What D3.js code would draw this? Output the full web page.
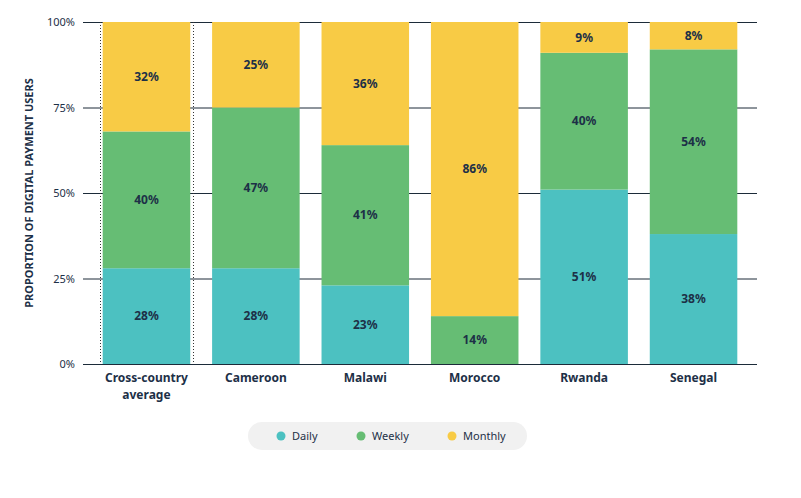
<!DOCTYPE html>
<html>
<head>
<meta charset="utf-8">
<script src="https://cdn.jsdelivr.net/npm/d3@7"></script>
<style>
  body { margin: 0; background: #fff; }
  text { font-family: "Noto Sans", "Open Sans", sans-serif; }
</style>
</head>
<body>
<div id="chart"></div>
<script>
var svgWidth = 801;
var svgHeight = 498;

// Data
var categories = ["Cross-country average", "Cameroon", "Malawi", "Morocco", "Rwanda", "Senegal"];
var seriesNames = ["Daily", "Weekly", "Monthly"];
var daily = [28, 28, 23, 0, 51, 38];
var weekly = [40, 47, 41, 14, 40, 54];
var monthly = [32, 25, 36, 86, 9, 8];
var yTicks = [0, 25, 50, 75, 100];

var colors = ["#4cc1c1", "#66bd74", "#f8cb45"];
var textColor = "#1d3047";

var plot = { left: 83, right: 757, top: 22, bottom: 364 };

var svg = d3.select("#chart").append("svg")
    .attr("width", svgWidth)
    .attr("height", svgHeight);

var rows = categories.map(function (c, i) {
    return { cat: c, Daily: daily[i], Weekly: weekly[i], Monthly: monthly[i] };
});

var stacked = d3.stack().keys(seriesNames)(rows);

var x = d3.scaleBand()
    .domain(categories)
    .range([plot.left, plot.right])
    .paddingInner(0.2)
    .paddingOuter(0.18);

var y = d3.scaleLinear()
    .domain([0, 100])
    .range([plot.bottom, plot.top]);

// Gridlines + tick labels
var yAxis = d3.axisLeft(y)
    .tickValues(yTicks)
    .tickSize(-(plot.right - plot.left))
    .tickFormat(function (d) { return d + "%"; });

var gy = svg.append("g")
    .attr("transform", "translate(" + plot.left + ",0)")
    .call(yAxis);
gy.select(".domain").remove();
gy.selectAll(".tick line").attr("stroke", "#1c2b39").attr("stroke-width", 1);
gy.selectAll(".tick text")
    .attr("x", -8)
    .attr("fill", textColor)
    .style("font-size", "11px");

// Dotted frame around the average bar
var avgX = x(categories[0]);
[avgX - 3, avgX + x.bandwidth() + 3].forEach(function (xx) {
    svg.append("line")
        .attr("x1", Math.round(xx) + 0.5).attr("x2", Math.round(xx) + 0.5)
        .attr("y1", plot.top).attr("y2", plot.bottom)
        .attr("stroke", "#333")
        .attr("stroke-width", 1)
        .attr("stroke-dasharray", "1,2");
});

// Bars
var layers = svg.selectAll(".layer")
    .data(stacked)
    .enter().append("g")
    .attr("fill", function (d, i) { return colors[i]; });

layers.selectAll("rect")
    .data(function (d) { return d; })
    .enter().append("rect")
    .attr("x", function (d) { return x(d.data.cat); })
    .attr("y", function (d) { return y(d[1]); })
    .attr("width", x.bandwidth())
    .attr("height", function (d) { return y(d[0]) - y(d[1]); });

// Value labels
layers.selectAll("text")
    .data(function (d) { return d.filter(function (v) { return v[1] - v[0] > 0; }); })
    .enter().append("text")
    .attr("x", function (d) { return x(d.data.cat) + x.bandwidth() / 2; })
    .attr("y", function (d) { return y((d[0] + d[1]) / 2); })
    .attr("dy", "0.35em")
    .attr("text-anchor", "middle")
    .attr("fill", textColor)
    .style("font-size", "12px")
    .style("font-weight", "bold")
    .text(function (d) { return Math.round(d[1] - d[0]) + "%"; });

// Baseline
svg.append("line")
    .attr("x1", plot.left).attr("x2", plot.right)
    .attr("y1", plot.bottom + 0.5).attr("y2", plot.bottom + 0.5)
    .attr("stroke", "#1c2b39");

// Category labels (one text per line)
categories.forEach(function (d) {
    var parts = d === "Cross-country average" ? ["Cross-country", "average"] : [d];
    parts.forEach(function (p, i) {
        svg.append("text")
            .attr("x", x(d) + x.bandwidth() / 2)
            .attr("y", plot.bottom + 18 + i * 17)
            .attr("text-anchor", "middle")
            .attr("fill", textColor)
            .style("font-size", "12px")
            .style("font-weight", "bold")
            .text(p);
    });
});

// Y axis title
svg.append("text")
    .attr("transform", "translate(33," + ((plot.top + plot.bottom) / 2) + ") rotate(-90)")
    .attr("text-anchor", "middle")
    .attr("fill", textColor)
    .style("font-size", "11px")
    .style("font-weight", "bold")
    .text("PROPORTION OF DIGITAL PAYMENT USERS");

// Legend
var legend = svg.append("g");
legend.append("rect")
    .attr("x", 248).attr("y", 422)
    .attr("width", 279).attr("height", 28)
    .attr("rx", 14)
    .attr("fill", "#f1f1f1");

var legendX = [281, 361, 452];
seriesNames.forEach(function (s, i) {
    legend.append("circle")
        .attr("cx", legendX[i]).attr("cy", 436)
        .attr("r", 4.5)
        .attr("fill", colors[i]);
    legend.append("text")
        .attr("x", legendX[i] + 11).attr("y", 436)
        .attr("dy", "0.35em")
        .attr("fill", textColor)
        .style("font-size", "11px")
        .text(s);
});
</script>
</body>
</html>
